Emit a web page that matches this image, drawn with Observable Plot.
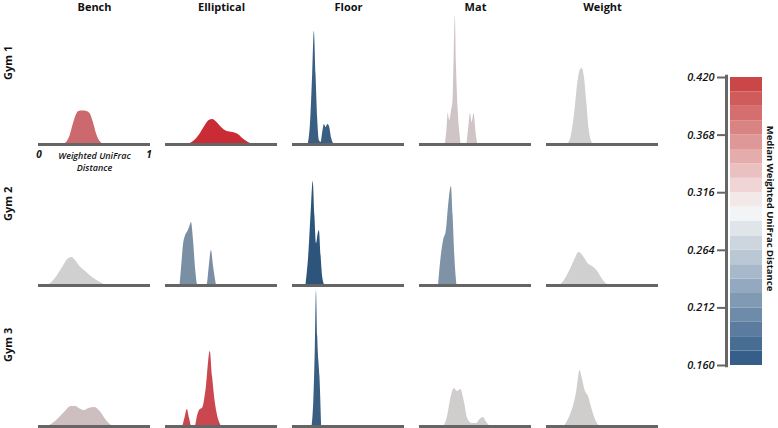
<!DOCTYPE html>
<html><head><meta charset="utf-8">
<script src="https://cdn.jsdelivr.net/npm/d3@7"></script>
<script src="https://cdn.jsdelivr.net/npm/@observablehq/plot@0.6"></script>
<style>
body{margin:0;background:#fff;}
#wrap{position:relative;width:778px;height:428px;font-family:"Open Sans",sans-serif;}
#wrap svg{position:absolute;top:0;}
</style></head><body><div id="wrap"></div>
<script>
// ---------- data ----------
const categories = ["Bench", "Elliptical", "Floor", "Mat", "Weight"];
const gyms = ["Gym 1", "Gym 2", "Gym 3"];

// median weighted UniFrac distance per panel (colour)
const medianGym1 = [0.365, 0.41, 0.175, 0.298, 0.29];
const medianGym2 = [0.29, 0.224, 0.165, 0.228, 0.29];
const medianGym3 = [0.303, 0.39, 0.175, 0.292, 0.292];

// density curves: [distance, relative density]
const benchGym1 = [[0.22,0],[0.25,2],[0.28,8],[0.31,20],[0.34,30],[0.36,33],[0.40,33.5],[0.43,33],[0.46,31],[0.49,22],[0.52,10],[0.55,3],[0.58,0]];
const ellipticalGym1 = [[0.2,0],[0.25,3],[0.3,9],[0.35,18],[0.39,24],[0.42,25],[0.46,22],[0.5,17],[0.55,13],[0.6,12],[0.65,10],[0.7,5],[0.74,2],[0.78,0]];
const floorGym1 = [[0.14,0],[0.16,20],[0.18,70],[0.195,113],[0.21,70],[0.225,25],[0.24,4],[0.255,2],[0.27,12],[0.285,20],[0.3,17],[0.315,20],[0.33,18],[0.35,6],[0.37,0]];
const matGym1 = [[0.23,0],[0.245,15],[0.256,31],[0.27,24],[0.285,33],[0.3,45],[0.31,90],[0.32,129],[0.33,80],[0.345,35],[0.36,12],[0.375,0],[0.42,0],[0.435,12],[0.455,31],[0.47,22],[0.487,31],[0.505,12],[0.52,0]];
const weightGym1 = [[0.19,0],[0.22,8],[0.25,30],[0.28,62],[0.3,74],[0.32,76],[0.34,66],[0.36,42],[0.38,16],[0.4,4],[0.42,0]];

const benchGym2 = [[0.08,0],[0.12,3],[0.17,10],[0.22,19],[0.27,27],[0.3,28],[0.33,25],[0.37,19],[0.42,14],[0.47,9],[0.52,5],[0.57,2],[0.6,0]];
const ellipticalGym2 = [[0.13,0],[0.145,20],[0.16,40],[0.18,50],[0.2,54],[0.215,58],[0.232,63],[0.25,45],[0.27,15],[0.29,0],[0.37,0],[0.39,18],[0.41,35],[0.43,18],[0.455,0]];
const floorGym2 = [[0.12,0],[0.145,30],[0.165,70],[0.185,104],[0.2,70],[0.215,42],[0.23,52],[0.24,55],[0.255,30],[0.27,8],[0.29,0]];
const matGym2 = [[0.17,0],[0.19,25],[0.215,45],[0.24,55],[0.26,80],[0.285,99],[0.3,70],[0.315,30],[0.335,0]];
const weightGym2 = [[0.12,0],[0.16,5],[0.2,13],[0.25,25],[0.29,33],[0.33,29],[0.37,22],[0.41,19],[0.45,15],[0.49,8],[0.53,2],[0.56,0]];

const benchGym3 = [[0.08,0],[0.13,3],[0.18,8],[0.24,15],[0.29,20],[0.33,20],[0.38,17],[0.41,16],[0.45,18],[0.5,19],[0.55,15],[0.6,7],[0.64,2],[0.68,0]];
const ellipticalGym3 = [[0.155,0],[0.175,9],[0.195,17],[0.215,8],[0.235,0],[0.265,0],[0.285,10],[0.31,17],[0.33,18],[0.36,35],[0.4,75],[0.42,50],[0.45,20],[0.48,5],[0.5,0]];
const floorGym3 = [[0.175,0],[0.19,25],[0.203,75],[0.214,136],[0.225,90],[0.235,66],[0.245,50],[0.26,0]];
const matGym3 = [[0.22,0],[0.25,10],[0.28,28],[0.31,38],[0.34,35],[0.37,37],[0.4,25],[0.43,8],[0.47,3],[0.51,3],[0.54,7],[0.57,9],[0.6,4],[0.63,0]];
const weightGym3 = [[0.16,0],[0.2,8],[0.24,20],[0.27,35],[0.3,56],[0.32,48],[0.345,36],[0.375,30],[0.4,20],[0.43,9],[0.46,2],[0.475,0]];

const legendTicks = [0.160, 0.212, 0.264, 0.316, 0.368, 0.420];

// ---------- table ----------
const medians = [medianGym1, medianGym2, medianGym3];
const curves = [
  [benchGym1, ellipticalGym1, floorGym1, matGym1, weightGym1],
  [benchGym2, ellipticalGym2, floorGym2, matGym2, weightGym2],
  [benchGym3, ellipticalGym3, floorGym3, matGym3, weightGym3]
];
const rows = [];
gyms.forEach((g, gi) => categories.forEach((c, ci) => {
  curves[gi][ci].forEach(([x, d]) => rows.push({gym: g, surface: c, x, d, median: medians[gi][ci], key: g + "|" + c}));
}));

const font = '"Open Sans", sans-serif';

const main = Plot.plot({
  width: 778, height: 428,
  marginLeft: 37, marginRight: 120, marginTop: 3, marginBottom: 2,
  style: {fontFamily: font, background: "transparent", overflow: "visible"},
  fx: {domain: categories, paddingInner: 0.12, paddingOuter: 0, axis: null},
  fy: {domain: gyms, padding: 0, axis: null},
  x: {domain: [0, 1], axis: null},
  y: {domain: [0, 141], axis: null},
  color: {type: "linear", domain: [0.16, 0.29, 0.42], range: ["#264f78", "#d0d0d0", "#c81e28"], interpolate: "rgb"},
  marks: [
    Plot.areaY(rows, {x: "x", y: "d", fx: "surface", fy: "gym", z: "key", fill: "median", curve: "monotone-x"}),
    Plot.ruleY([0], {stroke: "#656565", strokeWidth: 3}),
    Plot.text(categories, {fx: d => d, fy: () => "Gym 1", text: d => d, frameAnchor: "top", dy: 4, lineAnchor: "middle", fontWeight: "bold", fontSize: 11, fill: "#111"}),
    Plot.text(gyms, {fy: d => d, fx: () => "Bench", text: d => d, frameAnchor: "left", dx: -30, dy: 6, rotate: -90, fontWeight: "bold", fontSize: 11, fill: "#111"}),
    Plot.text(["0"], {fx: () => "Bench", fy: () => "Gym 1", text: d => d, frameAnchor: "bottom-left", textAnchor: "middle", dx: 0.5, dy: 13, fontWeight: "bold", fontStyle: "italic", fontSize: 10, fill: "#111"}),
    Plot.text(["1"], {fx: () => "Bench", fy: () => "Gym 1", text: d => d, frameAnchor: "bottom-right", textAnchor: "middle", dx: -1.5, dy: 13, fontWeight: "bold", fontStyle: "italic", fontSize: 10, fill: "#111"}),
    Plot.text(["Weighted UniFrac\nDistance"], {fx: () => "Bench", fy: () => "Gym 1", text: d => d, frameAnchor: "bottom", lineAnchor: "top", dy: 6, lineHeight: 1.35, fontStyle: "italic", fontWeight: 600, fontSize: 9, fill: "#111"})
  ]
});
main.style.left = "0px";

const bands = d3.range(20).map(i => 0.160 + i * 0.013);
const legend = Plot.plot({
  width: 138, height: 428,
  marginLeft: 90, marginRight: 16, marginTop: 77, marginBottom: 63,
  style: {fontFamily: font, background: "transparent", overflow: "visible"},
  x: {domain: [0, 1], axis: null},
  y: {domain: [0.16, 0.42], axis: null},
  color: {type: "linear", domain: [0.16, 0.30, 0.42], range: ["#2b5783", "#f8f8f8", "#c83c3c"], interpolate: "rgb"},
  marks: [
    Plot.rect(bands, {x1: 0, x2: 1, y1: d => d, y2: d => d + 0.013, fill: d => d + 0.0065}),
    Plot.ruleX([0], {y1: 0.158, y2: 0.422, dx: -4, stroke: "#666", strokeWidth: 3}),
    Plot.axisY({anchor: "left", ticks: legendTicks, tickSize: 9, tickPadding: 3, dx: -4, tickFormat: d3.format(".3f"), stroke: "#666", strokeWidth: 2, fontStyle: "italic", fontWeight: 600, fontSize: 11, fill: "#111", label: null}),
    Plot.text(["Median Weighted UniFrac Distance"], {text: d => d, frameAnchor: "right", textAnchor: "middle", dx: 8, dy: -13, rotate: 90, fontWeight: "bold", fontSize: 9.5, fill: "#111"})
  ]
});
legend.style.left = "640px";

const wrap = document.getElementById("wrap");
wrap.append(main, legend);
</script>
</body></html>
